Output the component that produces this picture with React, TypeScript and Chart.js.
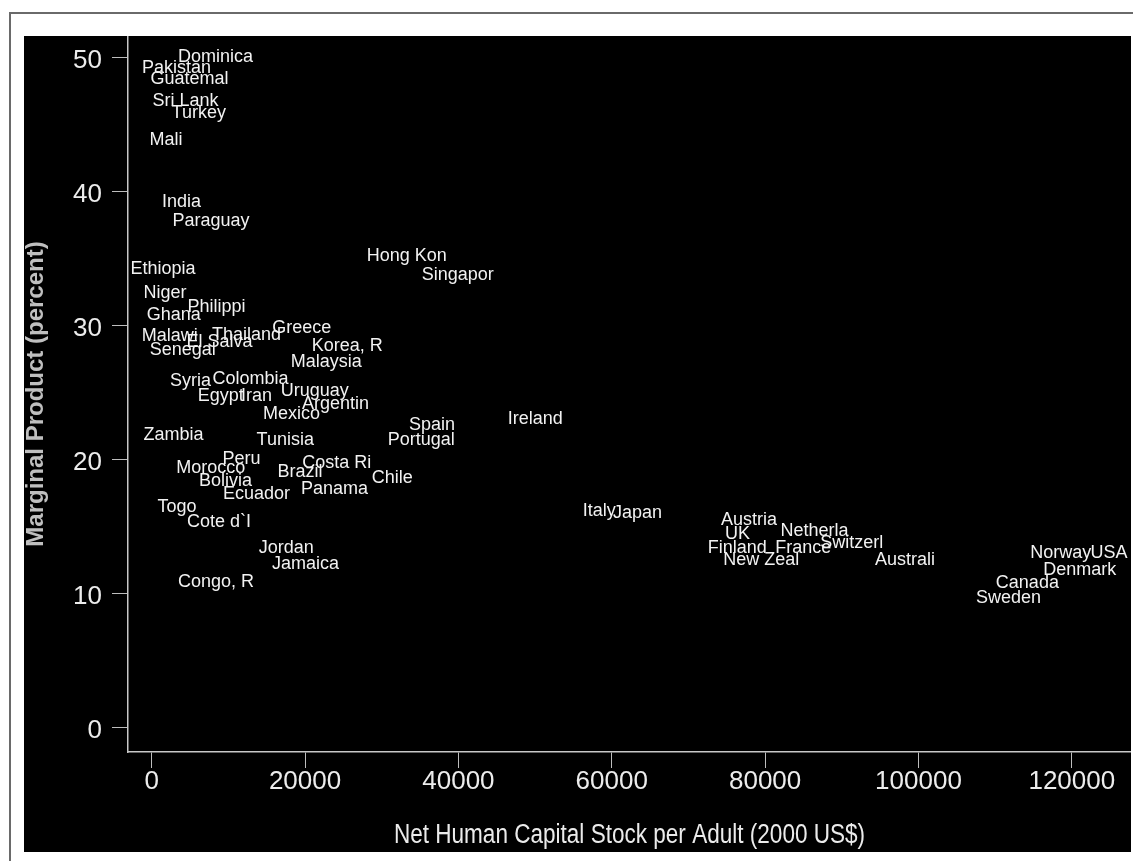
import React, { useEffect, useRef } from "react";
import { Chart, registerables } from "chart.js";

Chart.register(...registerables);

// ---- data ----
const countries = [
  "Dominica", "Pakistan", "Guatemal", "Sri Lank", "Turkey", "Mali", "India", "Paraguay",
  "Ethiopia", "Hong Kon", "Singapor", "Niger", "Philippi", "Ghana", "Greece", "Malawi",
  "Thailand", "El Salva", "Senegal", "Korea, R", "Malaysia", "Syria", "Colombia", "Uruguay",
  "Egypt", "Iran", "Argentin", "Mexico", "Spain", "Ireland", "Portugal", "Zambia",
  "Tunisia", "Peru", "Costa Ri", "Morocco", "Brazil", "Chile", "Bolivia", "Panama",
  "Ecuador", "Togo", "Cote d`I", "Jordan", "Jamaica", "Congo, R", "Italy", "Japan",
  "Austria", "UK", "Netherla", "Switzerl", "Finland", "France", "New Zeal", "Australi",
  "Norway", "USA", "Denmark", "Canada", "Sweden",
];

const humanCapital = [
  8323, 3222, 4918, 4397, 6132, 1866, 3888, 7736,
  1474, 33267, 39921, 1735, 8441, 2870, 19569, 2348,
  12355, 8845, 4044, 25505, 22765, 5062, 12889, 21265,
  9002, 13659, 23979, 18225, 36568, 50031, 35159, 2844,
  17416, 11702, 24135, 7697, 19334, 31376, 9628, 23835,
  13659, 3288, 8767, 17547, 20065, 8389, 58368, 63351,
  77885, 76384, 86430, 91296, 76358, 84982, 79489, 98236,
  118562, 124850, 121041, 114205, 111739,
];

const marginalProduct = [
  50.04, 49.22, 48.42, 46.79, 45.89, 43.83, 39.25, 37.79,
  34.21, 35.2, 33.79, 32.41, 31.4, 30.81, 29.81, 29.19,
  29.28, 28.81, 28.2, 28.44, 27.25, 25.88, 26.01, 25.09,
  24.71, 24.71, 24.17, 23.42, 22.6, 23.0, 21.48, 21.8,
  21.48, 20.04, 19.75, 19.37, 19.08, 18.63, 18.37, 17.81,
  17.46, 16.47, 15.32, 13.41, 12.21, 10.84, 16.14, 15.99,
  15.5, 14.45, 14.68, 13.8, 13.43, 13.43, 12.48, 12.51,
  13.01, 13.01, 11.74, 10.82, 9.68,
];

const xTicks = [0, 20000, 40000, 60000, 80000, 100000, 120000];
const yTicks = [0, 10, 20, 30, 40, 50];

const xTitle = "Net Human Capital Stock per Adult (2000 US$)";
const yTitle = "Marginal Product (percent)";

const FONT = "'Liberation Sans', Arial, Helvetica, sans-serif";

const labelPlugin = {
  id: "countryLabels",
  afterDatasetsDraw(chart: any) {
    const ctx = chart.ctx as CanvasRenderingContext2D;
    const meta = chart.getDatasetMeta(0);
    ctx.save();
    ctx.font = `18px ${FONT}`;
    ctx.fillStyle = "#f2f2f2";
    ctx.textAlign = "center";
    ctx.textBaseline = "middle";
    meta.data.forEach((el: any, i: number) => {
      ctx.fillText(countries[i], el.x, el.y);
    });
    ctx.restore();
  },
};

// condensed x-axis title (the reference uses a narrow face)
const xTitlePlugin = {
  id: "narrowXTitle",
  afterDraw(chart: any) {
    const ctx = chart.ctx as CanvasRenderingContext2D;
    const area = chart.chartArea;
    const cx = (area.left + area.right) / 2;
    const cy = chart.height - 16;
    ctx.save();
    ctx.translate(cx, cy);
    ctx.scale(0.835, 1);
    ctx.font = `27px ${FONT}`;
    ctx.fillStyle = "#ebebeb";
    ctx.textAlign = "center";
    ctx.textBaseline = "middle";
    ctx.fillText(xTitle, 0, 0);
    ctx.restore();
  },
};

export default function App() {
  const ref = useRef<HTMLCanvasElement | null>(null);

  useEffect(() => {
    if (!ref.current) return;
    Chart.defaults.font.family = FONT;
    const points = humanCapital.map((x, i) => ({ x, y: marginalProduct[i] }));
    const chart = new Chart(ref.current, {
      type: "scatter",
      data: {
        datasets: [
          {
            data: points,
            pointRadius: 0,
            pointHoverRadius: 0,
            backgroundColor: "transparent",
            borderColor: "transparent",
          },
        ],
      },
      options: {
        animation: false,
        responsive: false,
        events: [],
        layout: { padding: 0 },
        plugins: {
          legend: { display: false },
          tooltip: { enabled: false },
        },
        scales: {
          x: {
            type: "linear",
            min: -3092,
            max: 127720,
            afterBuildTicks: (scale: any) => {
              scale.ticks = xTicks.map((value) => ({ value }));
            },
            afterFit: (scale: any) => {
              scale.height = 100;
              scale.paddingLeft = 0;
              scale.paddingRight = 0;
            },
            ticks: {
              autoSkip: false,
              maxRotation: 0,
              color: "#ececec",
              padding: 1,
              font: { size: 26, lineHeight: 1 },
              callback: (v: any) => String(v),
            },
            grid: {
              drawOnChartArea: false,
              drawTicks: true,
              tickLength: 16,
              color: "#bdbdbd",
              lineWidth: 1,
            },
            border: { color: "#c8c8c8", width: 1.5 },
            title: { display: false },
          },
          y: {
            type: "linear",
            min: -1.83,
            max: 51.62,
            afterBuildTicks: (scale: any) => {
              scale.ticks = yTicks.map((value) => ({ value }));
            },
            afterFit: (scale: any) => {
              scale.width = 104;
              scale.paddingTop = 0;
              scale.paddingBottom = 0;
            },
            ticks: {
              autoSkip: false,
              color: "#ececec",
              padding: 10,
              labelOffset: 3,
              font: { size: 26, lineHeight: 1 },
              callback: (v: any) => String(v),
            },
            grid: {
              drawOnChartArea: false,
              drawTicks: true,
              tickLength: 16,
              color: "#bdbdbd",
              lineWidth: 1,
            },
            border: { color: "#c8c8c8", width: 1.5 },
            title: {
              display: true,
              text: yTitle,
              color: "#bfbfbf",
              padding: 0,
              font: { size: 24, weight: "bold", lineHeight: 1 },
            },
          },
        },
      },
      plugins: [labelPlugin, xTitlePlugin],
    } as any);
    return () => chart.destroy();
  }, []);

  return (
    <div
      style={{
        position: "fixed",
        inset: 0,
        overflow: "hidden",
        background: "#ffffff",
      }}
    >
      <div
        style={{
          position: "absolute",
          left: 9,
          top: 12,
          width: 1400,
          height: 1000,
          borderLeft: "2px solid #6a6a6a",
          borderTop: "2px solid #6a6a6a",
        }}
      />
      <canvas
        ref={ref}
        width={1107}
        height={816}
        style={{
          position: "absolute",
          left: 24,
          top: 36,
          width: 1107,
          height: 816,
          background: "#000000",
        }}
      />
    </div>
  );
}
